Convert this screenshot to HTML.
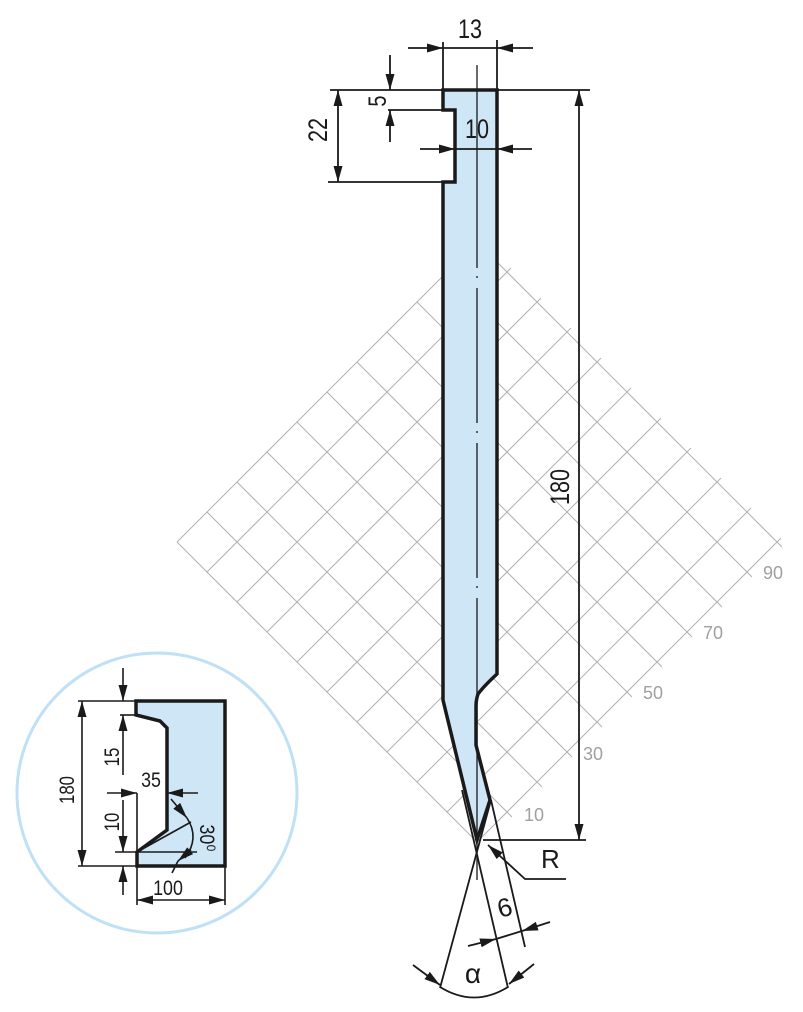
<!DOCTYPE html>
<html><head><meta charset="utf-8"><style>
html,body{margin:0;padding:0;background:#fff;}
svg{display:block;}
.d{font-family:"Liberation Sans",sans-serif;fill:#1a1a1a;}
.g{font-family:"Liberation Sans",sans-serif;fill:#a0a0a0;font-size:18px;}
</style></head><body>
<svg width="803" height="1012" viewBox="0 0 803 1012" xmlns="http://www.w3.org/2000/svg">
<defs>
<marker id="a" viewBox="0 0 16 9" refX="16" refY="4.5" markerWidth="16" markerHeight="9" markerUnits="userSpaceOnUse" orient="auto-start-reverse">
<path d="M0,0 L16,4.5 L0,9 Z" fill="#1a1a1a"/></marker>
</defs>
<g stroke="#b0b0b0" stroke-width="1" fill="none">
<line x1="477" y1="842" x2="781" y2="538"/><line x1="447" y1="812" x2="751" y2="508"/><line x1="417" y1="782" x2="721" y2="478"/><line x1="387" y1="752" x2="691" y2="448"/><line x1="357" y1="722" x2="661" y2="418"/><line x1="327" y1="692" x2="631" y2="388"/><line x1="297" y1="662" x2="601" y2="358"/><line x1="267" y1="632" x2="571" y2="328"/><line x1="237" y1="602" x2="541" y2="298"/><line x1="207" y1="572" x2="511" y2="268"/><line x1="177" y1="542" x2="481" y2="238"/>
<line x1="477" y1="842" x2="177" y2="542"/><line x1="512" y1="817" x2="207" y2="512"/><line x1="542" y1="787" x2="237" y2="482"/><line x1="572" y1="757" x2="267" y2="452"/><line x1="602" y1="727" x2="297" y2="422"/><line x1="632" y1="697" x2="327" y2="392"/><line x1="662" y1="667" x2="357" y2="362"/><line x1="692" y1="637" x2="387" y2="332"/><line x1="722" y1="607" x2="417" y2="302"/><line x1="752" y1="577" x2="447" y2="272"/><line x1="782" y1="547" x2="477" y2="242"/>
</g>
<text class="g" x="524" y="821">10</text>
<text class="g" x="583" y="760">30</text>
<text class="g" x="643" y="699">50</text>
<text class="g" x="703" y="639">70</text>
<text class="g" x="763" y="579">90</text>
<path d="M443,90 L497,90 L497,674 Q484,686 478,694 Q476,700 476,706 L476,745 L490,800 L477,840 L443,700 L443,182 L455,182 L455,110 L443,110 Z" fill="#cfe6f7" stroke="#1a1a1a" stroke-width="3.5" stroke-linejoin="miter"/>
<g stroke="#1a1a1a" stroke-width="1.3">
<line x1="477" y1="65" x2="477" y2="268"/><line x1="477" y1="276" x2="477" y2="278"/>
<line x1="477" y1="288" x2="477" y2="423"/><line x1="477" y1="431" x2="477" y2="433"/>
<line x1="477" y1="443" x2="477" y2="578"/><line x1="477" y1="586" x2="477" y2="588"/>
<line x1="477" y1="598" x2="477" y2="880"/>
</g>
<g stroke="#1a1a1a" stroke-width="1.8" fill="none">
<line x1="443" y1="42" x2="443" y2="90"/><line x1="497" y1="40" x2="497" y2="90"/>
<line x1="443" y1="48" x2="497" y2="48"/>
<line x1="408" y1="48" x2="443" y2="48" marker-end="url(#a)"/>
<line x1="533" y1="48" x2="497" y2="48" marker-end="url(#a)"/>
<line x1="330" y1="90" x2="590" y2="90"/>
<line x1="388" y1="110" x2="443" y2="110"/>
<line x1="328" y1="182" x2="443" y2="182"/>
<line x1="390" y1="55" x2="390" y2="90" marker-end="url(#a)"/>
<line x1="390" y1="142" x2="390" y2="110" marker-end="url(#a)"/>
<line x1="338" y1="90" x2="338" y2="182" marker-start="url(#a)" marker-end="url(#a)"/>
<line x1="455" y1="149" x2="497" y2="149"/>
<line x1="420" y1="149" x2="455" y2="149" marker-end="url(#a)"/>
<line x1="532" y1="149" x2="497" y2="149" marker-end="url(#a)"/>
<line x1="579" y1="90" x2="579" y2="840" marker-start="url(#a)" marker-end="url(#a)"/>
<line x1="483" y1="840" x2="586" y2="840"/>
<polyline points="566,879 525,879 488,845" marker-end="url(#a)"/>
<line x1="491" y1="800" x2="440" y2="988"/>
<line x1="462" y1="790" x2="508" y2="988"/>
<line x1="491" y1="800" x2="525" y2="947"/>
<path d="M440,987 Q474,1008 508,987"/>
<line x1="413" y1="965" x2="440" y2="985" marker-end="url(#a)"/>
<line x1="534" y1="964" x2="509" y2="984" marker-end="url(#a)"/>
<line x1="496" y1="939" x2="522" y2="931"/>
<line x1="468" y1="946" x2="496" y2="939" marker-end="url(#a)"/>
<line x1="550" y1="922" x2="522" y2="931" marker-end="url(#a)"/>
</g>
<text class="d" font-size="27" x="470" y="38" text-anchor="middle" transform="translate(470,0) scale(0.8,1) translate(-470,0)">13</text>
<text class="d" font-size="27" x="477" y="138" text-anchor="middle" transform="translate(477,0) scale(0.8,1) translate(-477,0)">10</text>
<text class="d" font-size="25" transform="translate(386,101) rotate(-90) scale(0.8,1)" text-anchor="middle">5</text>
<text class="d" font-size="27" transform="translate(327,130) rotate(-90) scale(0.8,1)" text-anchor="middle">22</text>
<text class="d" font-size="27" transform="translate(569,487) rotate(-90) scale(0.8,1)" text-anchor="middle">180</text>
<text class="d" font-size="26" x="541" y="868">R</text>
<text class="d" font-size="26" transform="translate(500,918) rotate(-15)">6</text>
<text class="d" font-size="28" x="473" y="983" text-anchor="middle">α</text>
<circle cx="157" cy="793" r="140" fill="none" stroke="#bfe0f5" stroke-width="3"/>
<path d="M136,701 L225,701 L225,866 L137,866 L137,852 L167,830 L167,728 L160,721 L136,715 Z" fill="#cfe6f7" stroke="#1a1a1a" stroke-width="3.5"/>
<g stroke="#1a1a1a" stroke-width="1.6" fill="none">
<line x1="78" y1="701" x2="136" y2="701"/><line x1="78" y1="866" x2="136" y2="866"/>
<line x1="82" y1="701" x2="82" y2="866" marker-start="url(#a)" marker-end="url(#a)"/>
<line x1="120" y1="715" x2="136" y2="715"/>
<line x1="123" y1="668" x2="123" y2="701" marker-end="url(#a)"/>
<line x1="123" y1="775" x2="123" y2="715" marker-end="url(#a)"/>
<line x1="107" y1="793" x2="137" y2="793" marker-end="url(#a)"/>
<line x1="198" y1="793" x2="167" y2="793" marker-end="url(#a)"/>
<line x1="137" y1="793" x2="137" y2="905"/>
<line x1="225" y1="866" x2="225" y2="905"/>
<line x1="115" y1="852" x2="197" y2="852"/>
<line x1="123" y1="800" x2="123" y2="852" marker-end="url(#a)"/>
<line x1="123" y1="895" x2="123" y2="866" marker-end="url(#a)"/>
<line x1="137" y1="852" x2="191" y2="822"/>
<line x1="137" y1="900" x2="225" y2="900" marker-start="url(#a)" marker-end="url(#a)"/>
<line x1="171" y1="799" x2="187" y2="818" marker-end="url(#a)"/>
<path d="M187,818 Q200,838 185,858"/>
<line x1="191" y1="850" x2="178" y2="861" marker-end="url(#a)"/>
<line x1="178" y1="861" x2="172" y2="873"/>
</g>
<text class="d" font-size="21" transform="translate(74,790) rotate(-90) scale(0.8,1)" text-anchor="middle">180</text>
<text class="d" font-size="21" transform="translate(119,757) rotate(-90) scale(0.8,1)" text-anchor="middle">15</text>
<text class="d" font-size="21" transform="translate(119,822) rotate(-90) scale(0.8,1)" text-anchor="middle">10</text>
<text class="d" font-size="21" x="151" y="787" text-anchor="middle" transform="translate(151,0) scale(0.85,1) translate(-151,0)">35</text>
<text class="d" font-size="21" x="168" y="895" text-anchor="middle" transform="translate(168,0) scale(0.85,1) translate(-168,0)">100</text>
<text class="d" font-size="21" transform="translate(200,838) rotate(90) scale(0.85,1)" text-anchor="middle">30⁰</text>
</svg>
</body></html>
